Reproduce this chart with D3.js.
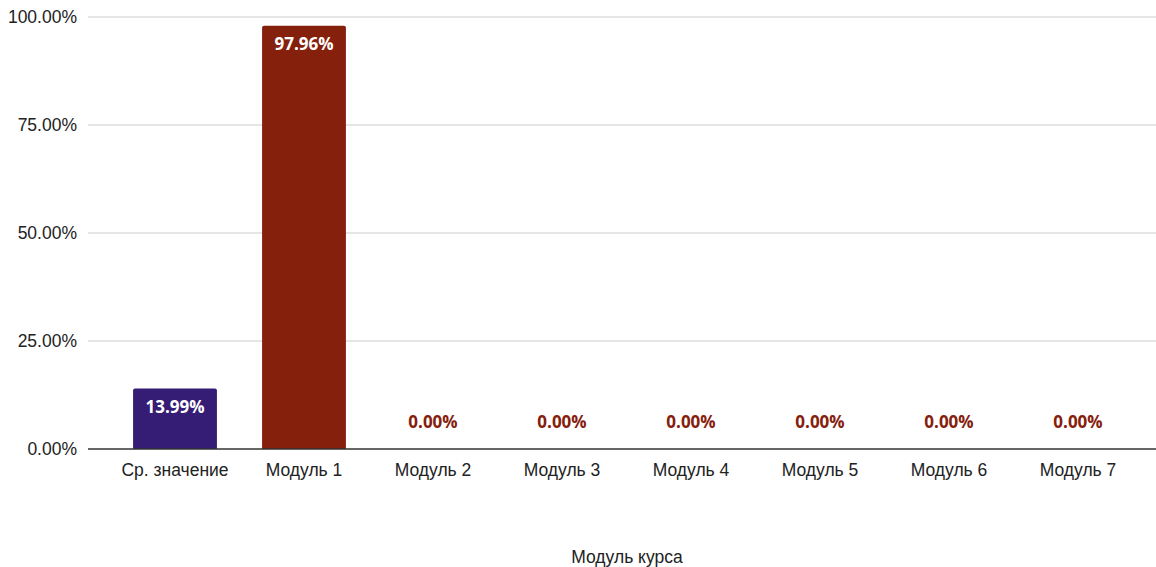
<!DOCTYPE html>
<html><head><meta charset="utf-8">
<script src="https://cdn.jsdelivr.net/npm/d3@7"></script>
<style>body{margin:0;background:#fff}svg{display:block}</style>
</head><body>
<svg id="c" width="1156" height="567"></svg>
<script>
const categories = ["Ср. значение","Модуль 1","Модуль 2","Модуль 3","Модуль 4","Модуль 5","Модуль 6","Модуль 7"];
const values = [13.99, 97.96, 0, 0, 0, 0, 0, 0];
const barColors = ["#351c75","#85200c","#85200c","#85200c","#85200c","#85200c","#85200c","#85200c"];
const yTicks = [0, 25, 50, 75, 100];
const xTitle = "Модуль курса";

(function(){
const svg = d3.select("#c");
const pLeft = 88, pRight = 1156, pTop = 17, pBottom = 449;
const x = d3.scaleBand().domain(categories).range([110.5, 1142.5]).paddingInner(0.35).paddingOuter(0.175);
const y = d3.scaleLinear().domain([0, 100]).range([pBottom, pTop]);
const font = "'Liberation Sans', Arial, sans-serif";
const bold = "'Open Sans', 'Noto Sans', sans-serif";
const fs = 17.5;

svg.append("g").selectAll("line").data(yTicks.filter(d => d > 0)).join("line")
  .attr("x1", pLeft).attr("x2", pRight)
  .attr("y1", d => y(d)).attr("y2", d => y(d))
  .attr("stroke", "#cccccc").attr("stroke-width", 1);

svg.append("g").selectAll("text").data(yTicks).join("text")
  .attr("x", 77).attr("y", d => y(d)).attr("dy", "0.35em")
  .attr("text-anchor", "end").attr("font-family", font).attr("font-size", fs).attr("fill", "#222")
  .text(d => d.toFixed(2) + "%");

svg.append("g").selectAll("path").data(values.map((v, i) => ({v, c: categories[i], col: barColors[i]})).filter(d => d.v > 0)).join("path")
  .attr("fill", d => d.col)
  .attr("d", d => {
    const x0 = x(d.c), w = x.bandwidth(), y0 = y(d.v), y1 = y(0), r = 2;
    return `M${x0},${y1}V${y0 + r}Q${x0},${y0} ${x0 + r},${y0}H${x0 + w - r}Q${x0 + w},${y0} ${x0 + w},${y0 + r}V${y1}Z`;
  });

svg.append("g").selectAll("text").data(values.map((v, i) => ({v, c: categories[i]}))).join("text")
  .attr("x", d => x(d.c) + x.bandwidth() / 2)
  .attr("y", d => d.v > 5 ? y(d.v) + 18 : y(d.v) - 27)
  .attr("dy", "0.35em")
  .attr("text-anchor", "middle").attr("font-family", bold).attr("font-weight", "bold").attr("font-size", 17)
  .attr("fill", d => d.v > 5 ? "#ffffff" : "#85200c")
  .text(d => d.v.toFixed(2) + "%");

svg.append("line").attr("x1", pLeft).attr("x2", pRight).attr("y1", pBottom).attr("y2", pBottom)
  .attr("stroke", "#333").attr("stroke-width", 1.5);

svg.append("g").selectAll("text").data(categories).join("text")
  .attr("x", d => x(d) + x.bandwidth() / 2).attr("y", 470).attr("dy", "0.35em")
  .attr("text-anchor", "middle").attr("font-family", font).attr("font-size", fs).attr("fill", "#222")
  .text(d => d);

svg.append("text").attr("x", 627).attr("y", 557).attr("dy", "0.35em")
  .attr("text-anchor", "middle").attr("font-family", font).attr("font-size", fs).attr("fill", "#222")
  .text(xTitle);
})();
</script>
</body></html>
